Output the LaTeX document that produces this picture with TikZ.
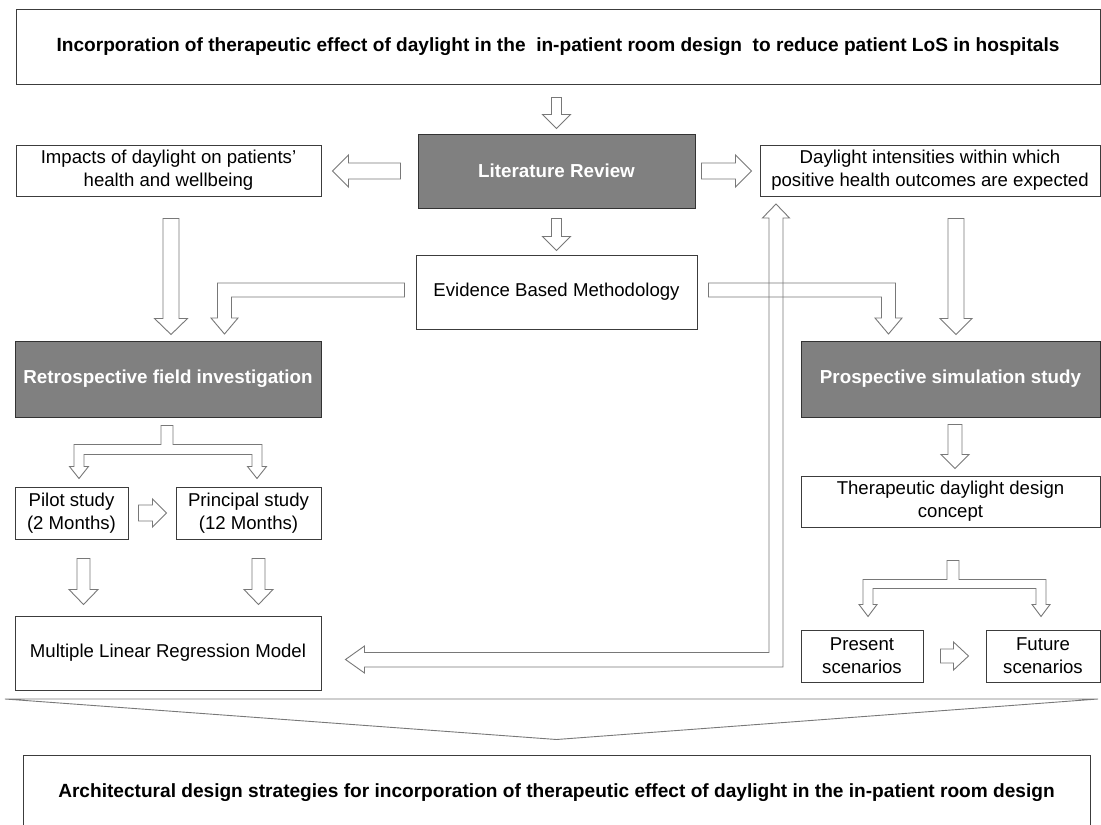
\documentclass[tikz,border=0pt]{standalone}
\usepackage{fontspec}
\setmainfont{Liberation Sans}
\usetikzlibrary{calc}
\definecolor{boxline}{RGB}{60,60,60}
\definecolor{boxgray}{RGB}{128,128,128}
\definecolor{arrline}{RGB}{120,120,120}
\newcommand\txtfont{\fontsize{18.6}{23}\selectfont}
\newcommand\bldfont{\fontsize{18.8}{23}\selectfont\bfseries}
\newcommand\ttlfont{\fontsize{19.1}{23}\selectfont\bfseries}
\tikzset{
  box/.style={draw=boxline, fill=white, line width=1pt, inner sep=0pt, align=center, font=\txtfont, text=black},
  dbox/.style={box, fill=boxgray, draw=black!80, text=white, font=\bldfont},
  tbox/.style={box, font=\ttlfont},
  arr/.style={draw=arrline, fill=white, line width=0.9pt, line join=miter},
  arrnf/.style={draw=arrline, line width=0.9pt, line join=miter},
  pics/barrow/.style n args={4}{code={
    \path[arr] (0,-#2) -- ({#1-#4},-#2) -- ({#1-#4},-#3) -- (#1,0) -- ({#1-#4},#3) -- ({#1-#4},#2) -- (0,#2) -- cycle;
  }}
}
\begin{document}
\begin{tikzpicture}[x=1pt,y=-1pt]
\useasboundingbox[fill=white] (0,0) rectangle (1101,825);

% nodes
\node[tbox, minimum width=1084pt, minimum height=75pt] (top) at (558,46.75) {Incorporation of therapeutic effect of daylight in the\ \ in-patient room design\ \ to reduce patient LoS in hospitals};
\node[box, minimum width=305pt, minimum height=51pt] (impacts) at (168.5,170.5) {Impacts of daylight on patients'\\health and wellbeing};
\node[dbox, minimum width=277pt, minimum height=74pt] (lit) at (556.5,171) {Literature Review};
\node[box, minimum width=340pt, minimum height=51pt] (daylight) at (930,170.5) {Daylight intensities within which\\positive health outcomes are expected};
\node[box, minimum width=281pt, minimum height=74pt] (evid) at (556.5,292) {Evidence Based Methodology};
\node[dbox, minimum width=306pt, minimum height=76pt] (retro) at (168,379) {Retrospective field investigation};
\node[dbox, minimum width=299pt, minimum height=76pt] (prosp) at (950.5,379) {Prospective simulation study};
\node[box, minimum width=113pt, minimum height=52pt] (pilot) at (71.5,513) {Pilot study\\(2 Months)};
\node[box, minimum width=145pt, minimum height=52pt] (princ) at (248.5,513) {Principal study\\(12 Months)};
\node[box, minimum width=306pt, minimum height=74pt] (mlr) at (168,653) {Multiple Linear Regression Model};
\node[box, minimum width=299pt, minimum height=51pt] (thera) at (950.5,501.5) {Therapeutic daylight design\\concept};
\node[box, minimum width=122pt, minimum height=52pt] (present) at (862,656) {Present\\scenarios};
\node[box, minimum width=114pt, minimum height=52pt] (future) at (1043,656) {Future\\scenarios};
\node[tbox, minimum width=1067pt, minimum height=76pt] (bottom) at (556.5,793) {Architectural design strategies for incorporation of therapeutic effect of daylight in the in-patient room design};

% straight block arrows
\pic[rotate=-90] at ($(lit.north)+(0,-36)$) {barrow={31}{5}{14}{14}};
\pic[rotate=-90] at ($(lit.south)+(0,10)$) {barrow={32}{5}{14}{14}};
\pic[rotate=180] at ($(lit.west)+(-17,0)$) {barrow={68}{8}{16}{16}};
\pic at ($(lit.east)+(6,0)$) {barrow={50}{8}{16}{16}};
\pic[rotate=-90] at ($(impacts.south)+(2.5,22)$) {barrow={116}{8}{16.5}{16}};
\pic[rotate=-90] at ($(daylight.south)+(26,22)$) {barrow={116}{8}{16}{16}};
\pic at ($(pilot.east)+(10,0)$) {barrow={28}{8}{14}{14}};
\pic[rotate=-90] at ($(pilot.south)+(12,19)$) {barrow={46}{6.5}{14.5}{15}};
\pic[rotate=-90] at ($(princ.south)+(10,19)$) {barrow={46}{6.5}{14.5}{15}};
\pic[rotate=-90] at ($(prosp.south)+(4.5,7)$) {barrow={44}{7}{14}{14}};
\pic at ($(present.east)+(17,0)$) {barrow={28}{7}{14}{15}};

% bent arrows from Evidence Based Methodology
\path[arr] ($(evid.west)+(-11,-9)$) -- ++(-187,0) -- ++(0,35) -- ++(-6.5,0) -- ++(13.5,16) -- ++(13.5,-16) -- ++(-6.5,0) -- ++(0,-21) -- ++(173,0) -- cycle;
\path[arr] ($(evid.east)+(11,-9)$) -- ++(187,0) -- ++(0,35) -- ++(6.5,0) -- ++(-13.5,16) -- ++(-13.5,-16) -- ++(6.5,0) -- ++(0,-21) -- ++(-173,0) -- cycle;

% split arrows
\path[arr] ($(retro.south)+(-7,8)$) -- ++(12,0) -- ++(0,19) -- ++(89,0) -- ++(0,22) -- ++(4.5,0) -- ++(-9.5,12) -- ++(-9.5,-12) -- ++(4.5,0) -- ++(0,-12) -- ++(-168,0) -- ++(0,12) -- ++(4.5,0) -- ++(-9.5,12) -- ++(-9.5,-12) -- ++(4.5,0) -- ++(0,-22) -- ++(87,0) -- cycle;
\path[arr] ($(thera.south)+(-3.5,33)$) -- ++(12,0) -- ++(0,19) -- ++(87,0) -- ++(0,25) -- ++(4,0) -- ++(-9,12) -- ++(-9,-12) -- ++(4,0) -- ++(0,-16) -- ++(-163,0) -- ++(0,16) -- ++(4,0) -- ++(-9,12) -- ++(-9,-12) -- ++(4,0) -- ++(0,-25) -- ++(84,0) -- cycle;

% long double-headed arrow between MLR and daylight intensities
\path[arrnf] ($(mlr.east)+(24,6.5)$) -- ++(19,-13.5) -- ++(0,6.5) -- ++(404.5,0) -- ++(0,-434.5) -- ++(-6.5,0) -- ++(13.5,-14) -- ++(13.5,14) -- ++(-6.5,0) -- ++(0,449) -- ++(-418.5,0) -- ++(0,6) -- cycle;

% wedge towards the final box
\coordinate (wl) at (5,699);
\coordinate (wr) at (1098,699);
\path[arr] (wl) -- (wr) -- ($(bottom.north)+(0,-15)$) -- cycle;
\end{tikzpicture}
\end{document}
